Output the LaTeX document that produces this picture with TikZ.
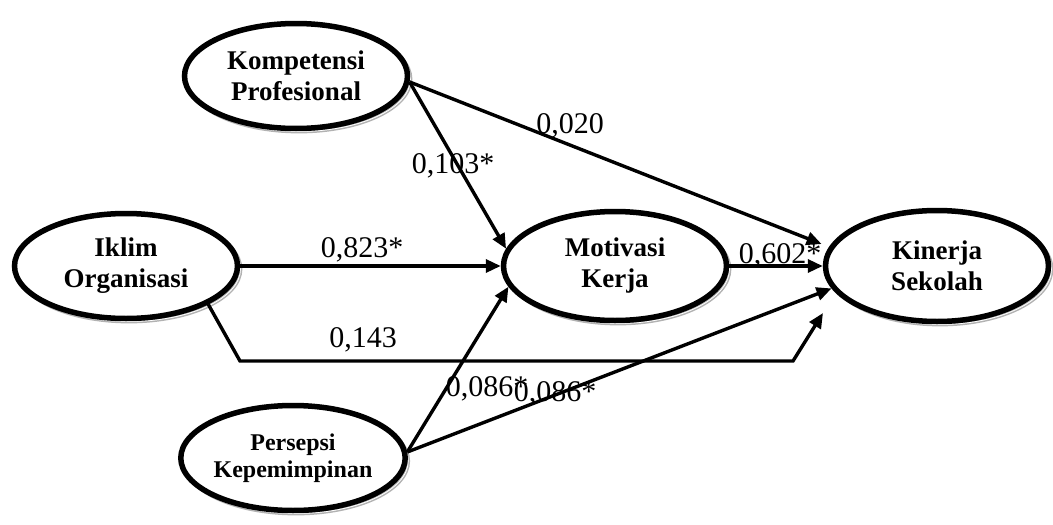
\documentclass[tikz,border=0pt]{standalone}
\usepackage{fontspec}
\setmainfont{Liberation Serif}
\usetikzlibrary{arrows.meta}
\usetikzlibrary{shapes.geometric}

\begin{document}
\begin{tikzpicture}[x=1pt,y=-1pt,
    var/.style={ellipse, draw=black, line width=5.5pt, fill=white,
        minimum width=223pt, minimum height=105pt, inner sep=0pt, align=center,
        font=\fontsize{27}{31}\selectfont\bfseries,
        preaction={draw=gray!60, double=white, double distance=0.8pt, line width=1.5pt,
            transform canvas={shift={(3pt,-3pt)}}}},
    link/.style={line width=3.4pt, -{Triangle[length=15pt,width=13pt]}},
    coef/.style={font=\fontsize{30}{30}\selectfont, inner sep=0pt}]
            \useasboundingbox (0,0) rectangle (1053,525);

            % variables
            \node[var] (komp) at (296,76) {Kompetensi\\Profesional};
            \node[var] (iklim) at (126,266) {Iklim\\Organisasi};
            \node[var, minimum height=109pt] (motiv) at (615,266) {Motivasi\\Kerja};
            \node[var, minimum height=111pt] (kinerja) at (937,266) {Kinerja\\Sekolah};
            \node[var, font=\fontsize{24}{27}\selectfont\bfseries] (persepsi) at (293,458) {Persepsi\\Kepemimpinan};

            \coordinate (bendA) at (240,361);
            \coordinate (bendB) at (793,361);
            \coordinate (ikend) at (823,313);

            % paths
            \draw[link] (komp.-3) -- (motiv.171);
            \draw[link, shorten >=8pt] (komp.-3) -- (kinerja.170);
            \draw[link] (iklim.east) -- (motiv.west);
            \draw[link] (iklim.-25) -- (bendA) -- (bendB) -- (ikend);
            \draw[link] (motiv.east) -- (kinerja.west);
            \draw[link] (persepsi.3) -- (motiv.191);
            \draw[link] (persepsi.3) -- (kinerja.192);

            % coefficients
            \node[coef] (l103) at (453,166) {0,103*};
            \node[coef] (l020) at (570,126) {0,020};
            \node[coef] (l823) at (362,250) {0,823*};
            \node[coef] (l602) at (780,256) {0,602*};
            \node[coef] (l143) at (363,340) {0,143};
            \node[coef] (l086a) at (487,389) {0,086*};
            \node[coef] (l086b) at (555,394) {0,086*};
        \end{tikzpicture}
\end{document}
